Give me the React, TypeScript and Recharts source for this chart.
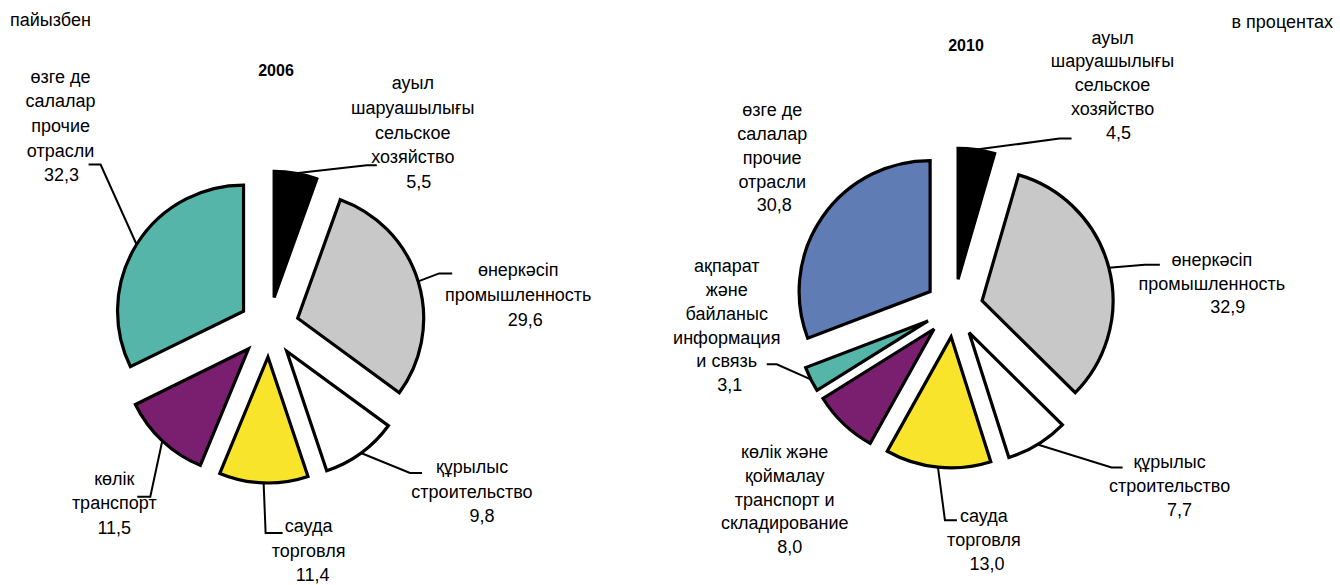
import React from "react"
import { PieChart, Pie, Sector } from "recharts"

// 2006, clockwise from 12 o'clock
const labels2006 = [
  ["ауыл", "шаруашылығы", "сельское", "хозяйство"],
  ["өнеркәсіп", "промышленность"],
  ["құрылыс", "строительство"],
  ["сауда", "торговля"],
  ["көлік", "транспорт"],
  ["өзге де", "салалар", "прочие", "отрасли"],
]
const values2006 = [5.5, 29.6, 9.8, 11.4, 11.5, 32.3]
const colors2006 = ["#000000", "#c8c8c8", "#ffffff", "#f9e42c", "#7a1e70", "#55b5a8"]

// 2010, clockwise from 12 o'clock
const labels2010 = [
  ["ауыл", "шаруашылығы", "сельское", "хозяйство"],
  ["өнеркәсіп", "промышленность"],
  ["құрылыс", "строительство"],
  ["сауда", "торговля"],
  ["көлік және", "қоймалау", "транспорт и", "складирование"],
  ["ақпарат", "және", "байланыс", "информация", "и связь"],
  ["өзге де", "салалар", "прочие", "отрасли"],
]
const values2010 = [4.5, 32.9, 7.7, 13.0, 8.0, 3.1, 30.8]
const colors2010 = ["#000000", "#c8c8c8", "#ffffff", "#f9e42c", "#7a1e70", "#55b5a8", "#607cb4"]

// callout layout: elbow offset from arc midpoint, horizontal tail, text offset from line end
type Callout = { elbow: number[] | null; tail: number; text: number[]; numDx: number }
const callouts2006: Callout[] = [
  { elbow: [71, -8], tail: 10, text: [36, -76], numDx: 6 },
  { elbow: [21, -8], tail: 13, text: [66, 3], numDx: 7 },
  { elbow: [49, 20], tail: 12, text: [50, 0], numDx: 10 },
  { elbow: [2, 50], tail: 17, text: [26, -1], numDx: 4 },
  { elbow: [-12, 56], tail: -13, text: [-23, -12], numDx: 0 },
  { elbow: [-36, -80], tail: -12, text: [-28, -82], numDx: 1 },
]
const callouts2010: Callout[] = [
  { elbow: [83, -11], tail: 12, text: [41, -95], numDx: 6 },
  { elbow: [36, -3], tail: 15, text: [52, 1], numDx: 16 },
  { elbow: [74, 23], tail: 11, text: [47, 1], numDx: 10 },
  { elbow: [7, 53], tail: 12, text: [27, 2], numDx: 3 },
  { elbow: null, tail: 0, text: [-59, 34], numDx: 5 },
  { elbow: [-34, -15], tail: -10, text: [-40, -92], numDx: 3 },
  { elbow: null, tail: 0, text: [-50, -101], numDx: 2 },
]

const FONT = '"Liberation Sans", Arial, sans-serif'

const toRows = (labels: string[][], values: number[], colors: string[]) =>
  values.map((v, i) => ({ name: labels[i].join(" "), value: v, lines: labels[i], color: colors[i] }))

const fmt = (v: number) => v.toFixed(1).replace(".", ",")

function makeLabel(callouts: Callout[], lineH: number, explode: number) {
  return (p: any) => {
    const rad = Math.PI / 180
    const ux = Math.cos(-p.midAngle * rad)
    const uy = Math.sin(-p.midAngle * rad)
    const ox = p.cx + explode * ux
    const oy = p.cy + explode * uy
    const ax = ox + p.outerRadius * ux
    const ay = oy + p.outerRadius * uy
    const c = callouts[p.index]
    let endX = ax
    let endY = ay
    let line = null
    if (c.elbow) {
      const ex = ax + c.elbow[0]
      const ey = ay + c.elbow[1]
      endX = ex + c.tail
      endY = ey
      line = (
        <polyline
          points={`${ax},${ay} ${ex},${ey} ${endX},${endY}`}
          fill="none"
          stroke="#000"
          strokeWidth={2}
        />
      )
    }
    const tx = endX + c.text[0]
    const ty = endY + c.text[1]
    const lines: string[] = p.payload.lines
    return (
      <g>
        <Sector
          cx={ox}
          cy={oy}
          innerRadius={0}
          outerRadius={p.outerRadius}
          startAngle={p.startAngle}
          endAngle={p.endAngle}
          fill={p.payload.color}
          stroke="#000"
          strokeWidth={3.2}
          strokeLinejoin="miter"
        />
        {line}
        <text textAnchor="middle" fontFamily={FONT} fontSize={18} fill="#000">
          {lines.map((s, i) => (
            <tspan key={i} x={tx} y={ty + i * lineH}>{s}</tspan>
          ))}
          <tspan x={tx + c.numDx} y={ty + lines.length * lineH}>{fmt(p.value)}</tspan>
        </text>
      </g>
    )
  }
}

export default function App() {
  const data2006 = toRows(labels2006, values2006, colors2006)
  const data2010 = toRows(labels2010, values2010, colors2010)

  return (
    <div style={{ position: "absolute", left: 0, top: 0, width: 1340, height: 585, background: "#fff", fontFamily: FONT }}>
      <div style={{ position: "absolute", left: 10, top: 10, fontSize: 18 }}>пайызбен</div>
      <div style={{ position: "absolute", right: 7, top: 12, fontSize: 18 }}>в процентах</div>
      <div style={{ position: "absolute", left: 226, top: 62, width: 100, textAlign: "center", fontSize: 16, fontWeight: "bold" }}>2006</div>
      <div style={{ position: "absolute", left: 916, top: 37, width: 100, textAlign: "center", fontSize: 16, fontWeight: "bold" }}>2010</div>
      <PieChart width={1340} height={585} margin={{ top: 0, right: 0, bottom: 0, left: 0 }}>
        <Pie
          data={data2006}
          dataKey="value"
          cx={269}
          cy={327}
          outerRadius={126}
          startAngle={90}
          endAngle={-270}
          fill="none"
          stroke="none"
          labelLine={false}
          label={makeLabel(callouts2006, 24.7, 30)}
          isAnimationActive={false}
        />
        <Pie
          data={data2010}
          dataKey="value"
          cx={954}
          cy={308}
          outerRadius={131}
          startAngle={90}
          endAngle={-270}
          fill="none"
          stroke="none"
          labelLine={false}
          label={makeLabel(callouts2010, 23.8, 29)}
          isAnimationActive={false}
        />
      </PieChart>
    </div>
  )
}
